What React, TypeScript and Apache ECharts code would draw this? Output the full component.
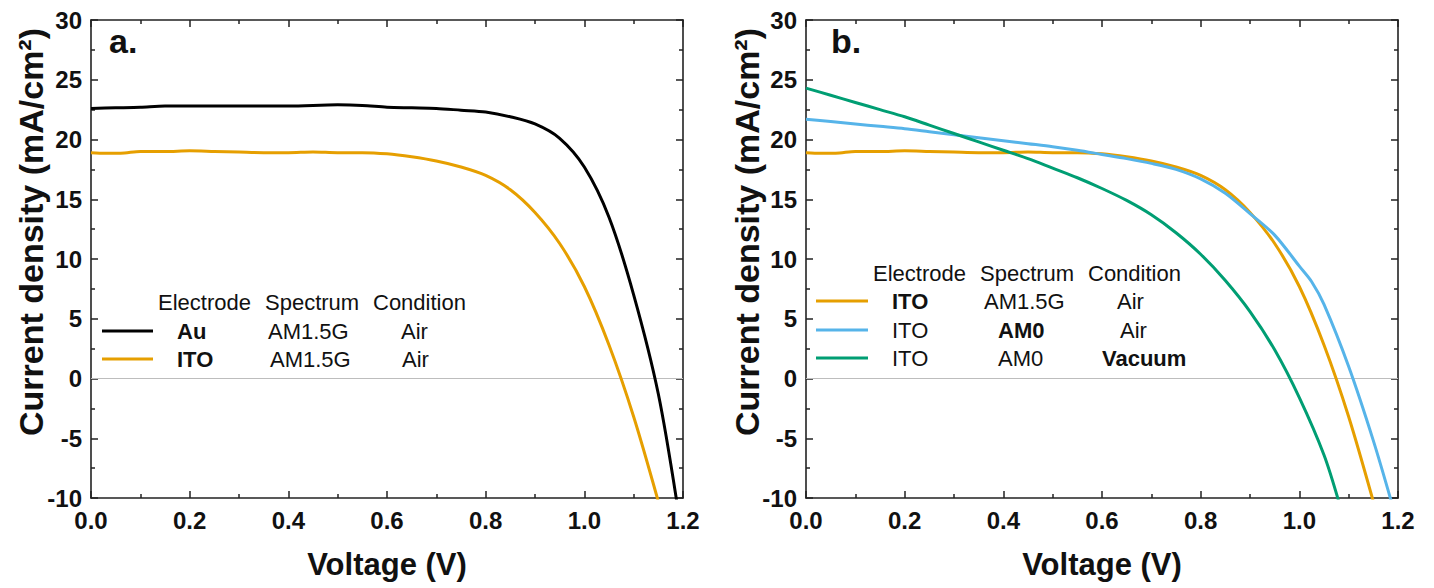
import React, { useEffect, useRef } from "react";
import * as echarts from "echarts";

// ---- Data ----
const voltsAu = [0, 0.05, 0.1, 0.15, 0.2, 0.3, 0.4, 0.5, 0.55, 0.6, 0.65, 0.7, 0.75, 0.8, 0.85, 0.9, 0.95, 1.0, 1.05, 1.1, 1.15, 1.19];
const jAu = [22.6, 22.65, 22.7, 22.8, 22.8, 22.8, 22.8, 22.9, 22.85, 22.7, 22.65, 22.6, 22.45, 22.3, 21.9, 21.3, 20.1, 17.7, 13.5, 7.0, -1.3, -11];

const voltsItoAm15 = [0, 0.03, 0.06, 0.1, 0.15, 0.2, 0.25, 0.3, 0.35, 0.4, 0.45, 0.5, 0.55, 0.6, 0.65, 0.7, 0.75, 0.8, 0.85, 0.9, 0.95, 1.0, 1.05, 1.1, 1.15];
const jItoAm15 = [18.9, 18.85, 18.85, 19.0, 19.0, 19.05, 19.0, 18.95, 18.9, 18.9, 18.95, 18.9, 18.9, 18.8, 18.55, 18.2, 17.7, 17.0, 15.8, 13.9, 11.3, 7.7, 2.8, -3.2, -10.3];

const voltsItoAm0 = [0, 0.05, 0.1, 0.15, 0.2, 0.25, 0.3, 0.35, 0.4, 0.45, 0.5, 0.55, 0.6, 0.65, 0.7, 0.75, 0.8, 0.85, 0.9, 0.95, 1.0, 1.025, 1.05, 1.1, 1.15, 1.19];
const jItoAm0 = [21.7, 21.5, 21.3, 21.1, 20.9, 20.65, 20.4, 20.15, 19.9, 19.65, 19.4, 19.1, 18.75, 18.4, 18.0, 17.5, 16.7, 15.5, 13.8, 12.0, 9.4, 8.1, 6.2, 1.0, -5.2, -10.8];

const voltsItoVac = [0, 0.05, 0.1, 0.15, 0.2, 0.25, 0.3, 0.35, 0.4, 0.45, 0.5, 0.55, 0.6, 0.65, 0.7, 0.75, 0.8, 0.85, 0.9, 0.95, 1.0, 1.05, 1.08];
const jItoVac = [24.3, 23.7, 23.1, 22.5, 21.9, 21.2, 20.5, 19.8, 19.1, 18.4, 17.6, 16.8, 15.9, 14.9, 13.7, 12.2, 10.4, 8.2, 5.6, 2.4, -1.6, -6.4, -10.3];

const xTicks = { min: 0, max: 1.2, interval: 0.2 };
const yTicks = { min: -10, max: 30, interval: 5 };

const legendHeader = ["Electrode", "Spectrum", "Condition"];
const legendA = [
  { color: "#000000", cells: ["Au", "AM1.5G", "Air"], bold: [true, false, false] },
  { color: "#E69F00", cells: ["ITO", "AM1.5G", "Air"], bold: [true, false, false] },
];
const legendB = [
  { color: "#E69F00", cells: ["ITO", "AM1.5G", "Air"], bold: [true, false, false] },
  { color: "#56B4E9", cells: ["ITO", "AM0", "Air"], bold: [false, true, false] },
  { color: "#009E73", cells: ["ITO", "AM0", "Vacuum"], bold: [false, false, true] },
];
const panelLabels = ["a.", "b."];
const yTitle = "Current density (mA/cm²)";
const xTitle = "Voltage (V)";

const FONT = "'Liberation Sans', Arial, Helvetica, sans-serif";
const AXIS_COLOR = "#222";

const pairs = (xs: number[], ys: number[]) => xs.map((x, i) => [x, ys[i]]);

function makeX(gridIndex: number, top: boolean) {
  return {
    gridIndex,
    type: "value",
    position: top ? "top" : "bottom",
    min: xTicks.min,
    max: xTicks.max,
    interval: xTicks.interval,
    axisLine: { show: true, onZero: false, lineStyle: { color: AXIS_COLOR, width: 1.6 } },
    axisTick: { show: true, inside: true, length: 7, lineStyle: { color: AXIS_COLOR, width: 1.5 } },
    minorTick: { show: true, splitNumber: 2, length: 4, lineStyle: { color: AXIS_COLOR, width: 1.5 } },
    splitLine: { show: false },
    axisLabel: top
      ? { show: false }
      : {
          show: true,
          fontSize: 24,
          fontWeight: "bold",
          fontFamily: FONT,
          color: "#111",
          margin: 10,
          formatter: (v: number) => v.toFixed(1),
        },
    name: top ? "" : xTitle,
    nameLocation: "middle",
    nameGap: 51,
    nameTextStyle: { fontSize: 31, fontWeight: "bold", fontFamily: FONT, color: "#111" },
  };
}

function makeY(gridIndex: number, right: boolean) {
  return {
    gridIndex,
    type: "value",
    position: right ? "right" : "left",
    min: yTicks.min,
    max: yTicks.max,
    interval: yTicks.interval,
    axisLine: { show: true, onZero: false, lineStyle: { color: AXIS_COLOR, width: 1.6 } },
    axisTick: { show: true, inside: true, length: 7, lineStyle: { color: AXIS_COLOR, width: 1.5 } },
    minorTick: { show: true, splitNumber: 2, length: 4, lineStyle: { color: AXIS_COLOR, width: 1.5 } },
    splitLine: { show: false },
    axisLabel: right
      ? { show: false }
      : { show: true, fontSize: 24, fontWeight: "bold", fontFamily: FONT, color: "#111", margin: 9 },
  };
}

function lineSeries(name: string, xi: number, yi: number, xs: number[], ys: number[], color: string, zero: boolean) {
  const s: any = {
    name,
    type: "line",
    xAxisIndex: xi,
    yAxisIndex: yi,
    data: pairs(xs, ys),
    showSymbol: false,
    symbol: "none",
    smooth: 0.3,
    lineStyle: { color, width: 3 },
    z: 3,
  };
  if (zero) {
    s.markLine = {
      silent: true,
      symbol: "none",
      label: { show: false },
      lineStyle: { color: "#bdbdbd", width: 1, type: "solid" },
      data: [{ yAxis: 0 }],
      z: 1,
    };
  }
  return s;
}

function legendGraphics(
  rows: { color: string; cells: string[]; bold: boolean[] }[],
  headerX: number[],
  headerY: number,
  lineX: [number, number],
  rowYs: number[],
  cellXs: number[][]
) {
  const els: any[] = [];
  legendHeader.forEach((h, i) => {
    els.push({
      type: "text",
      x: headerX[i],
      y: headerY,
      style: { text: h, font: `22px ${FONT}`, fill: "#111", align: "left", verticalAlign: "middle" },
    });
  });
  rows.forEach((r, ri) => {
    els.push({
      type: "line",
      shape: { x1: lineX[0], y1: rowYs[ri], x2: lineX[1], y2: rowYs[ri] },
      style: { stroke: r.color, lineWidth: 3 },
    });
    r.cells.forEach((c, ci) => {
      els.push({
        type: "text",
        x: cellXs[ri][ci],
        y: rowYs[ri],
        style: {
          text: c,
          font: `${r.bold[ci] ? "bold " : ""}22px ${FONT}`,
          fill: "#111",
          align: "left",
          verticalAlign: "middle",
        },
      });
    });
  });
  return els;
}

export default function App() {
  const ref = useRef<HTMLDivElement>(null);
  useEffect(() => {
    if (!ref.current) return;
    const chart = echarts.init(ref.current, undefined, { renderer: "svg" });
    const graphics: any[] = [
      ...legendGraphics(legendA, [158, 265, 373], 302, [102, 153], [331, 359], [
        [177, 268, 401],
        [177, 270, 402],
      ]),
      ...legendGraphics(legendB, [873, 980, 1088], 273, [816, 868], [301, 330, 358], [
        [892, 984, 1117],
        [892, 998, 1120],
        [892, 998, 1102],
      ]),
      {
        type: "text",
        x: 109,
        y: 41,
        style: { text: panelLabels[0], font: `bold 34px ${FONT}`, fill: "#111", align: "left", verticalAlign: "middle" },
      },
      {
        type: "text",
        x: 831,
        y: 41,
        style: { text: panelLabels[1], font: `bold 34px ${FONT}`, fill: "#111", align: "left", verticalAlign: "middle" },
      },
      {
        type: "text",
        x: 31,
        y: 232,
        rotation: Math.PI / 2,
        style: { text: yTitle, font: `bold 34px ${FONT}`, fill: "#111", align: "center", verticalAlign: "middle" },
      },
      {
        type: "text",
        x: 747,
        y: 232,
        rotation: Math.PI / 2,
        style: { text: yTitle, font: `bold 34px ${FONT}`, fill: "#111", align: "center", verticalAlign: "middle" },
      },
    ];
    chart.setOption({
      animation: false,
      backgroundColor: "#ffffff",
      grid: [
        { left: 91, top: 20, width: 592, height: 478, containLabel: false, outerBoundsMode: "none" },
        { left: 806, top: 20, width: 592, height: 478, containLabel: false, outerBoundsMode: "none" },
      ],
      xAxis: [makeX(0, false), makeX(0, true), makeX(1, false), makeX(1, true)],
      yAxis: [makeY(0, false), makeY(0, true), makeY(1, false), makeY(1, true)],
      series: [
        lineSeries("Au AM1.5G Air", 0, 0, voltsAu, jAu, "#000000", true),
        lineSeries("ITO AM1.5G Air", 0, 0, voltsItoAm15, jItoAm15, "#E69F00", false),
        lineSeries("ITO AM1.5G Air (b)", 2, 2, voltsItoAm15, jItoAm15, "#E69F00", true),
        lineSeries("ITO AM0 Air", 2, 2, voltsItoAm0, jItoAm0, "#56B4E9", false),
        lineSeries("ITO AM0 Vacuum", 2, 2, voltsItoVac, jItoVac, "#009E73", false),
      ],
      graphic: graphics,
    });
    return () => chart.dispose();
  }, []);
  return (
    <div
      ref={ref}
      style={{ position: "fixed", left: 0, top: 0, width: 1434, height: 588, background: "#fff" }}
    />
  );
}
